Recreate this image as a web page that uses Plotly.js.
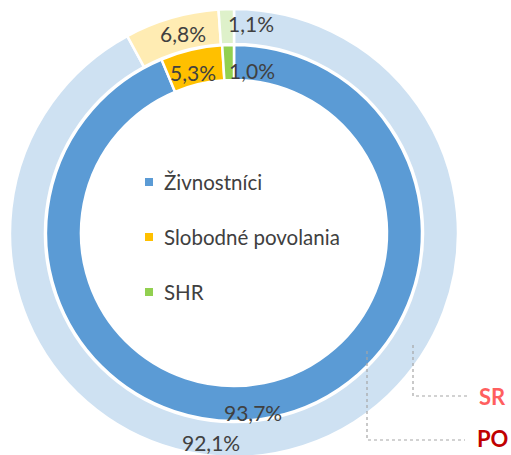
<!DOCTYPE html>
<html>
<head>
<meta charset="utf-8">
<script src="https://cdn.plot.ly/plotly-3.0.1.min.js"></script>
<style>
html,body{margin:0;padding:0;overflow:hidden;background:#fff;}
#chart{width:511px;height:460px;}
</style>
</head>
<body>
<div id="chart"></div>
<script>
// ---- data ----
const categories = ['Živnostníci', 'Slobodné povolania', 'SHR'];
const seriesNames = ['SR', 'PO'];
const valuesSR = [92.1, 6.8, 1.1];
const valuesPO = [93.7, 5.3, 1.0];

// ---- styles ----
const colorsPO = ['#5B9BD5', '#FFC000', '#92D050'];
const colorsSR = ['#CEE1F2', '#FFECB3', '#DEF1CA'];
const seriesColors = ['#FF5F5F', '#C00000'];
const W = 511, H = 460;
const cx = 234, cy = 233;
const outerR = 224, outerHole = 189;
const innerR = 188, innerHole = 153;
const font = 'Lato, "Open Sans", sans-serif';
const textColor = '#404040';
// label offsets (pixels) relative to slice mid-angle position
const offSR = [[-74, 9], [7, -1], [24, -3]];
const offPO = [[-15, 12], [-2, 6], [23, 8]];

const px = x => x / W;
const py = y => 1 - y / H;
const fmt = v => v.toFixed(1).replace('.', ',') + '%';

function pieTrace(vals, colors, R, hole, name) {
  return {
    type: 'pie', name: name, labels: categories, values: vals,
    sort: false, direction: 'clockwise', rotation: 0,
    hole: hole / R,
    marker: {colors: colors, line: {color: '#ffffff', width: 2.5}},
    textposition: 'none', showlegend: false, hoverinfo: 'label+percent',
    domain: {x: [px(cx - R), px(cx + R)], y: [1 - (cy + R) / H, 1 - (cy - R) / H]}
  };
}

const data = [
  pieTrace(valuesSR, colorsSR, outerR, outerHole, seriesNames[0]),
  pieTrace(valuesPO, colorsPO, innerR, innerHole, seriesNames[1])
];

const annotations = [];
function addLabels(vals, rMid, offs) {
  const total = vals.reduce((a, b) => a + b, 0);
  let cum = 0;
  vals.forEach((v, i) => {
    const mid = (cum + v / 2) / total * 2 * Math.PI;
    cum += v;
    const x = cx + Math.sin(mid) * rMid + offs[i][0];
    const y = cy - Math.cos(mid) * rMid + offs[i][1];
    annotations.push({
      x: px(x), y: py(y), xref: 'paper', yref: 'paper', showarrow: false,
      text: fmt(v), xanchor: 'center', yanchor: 'middle',
      font: {family: font, size: 21, color: textColor}
    });
  });
}
addLabels(valuesSR, (outerR + outerHole) / 2, offSR);
addLabels(valuesPO, (innerR + innerHole) / 2, offPO);

// legend (manual, from categories)
const shapes = [];
categories.forEach((c, i) => {
  const yc = 182 + i * 55;
  shapes.push({type: 'rect', xref: 'paper', yref: 'paper',
    x0: px(145), x1: px(153), y0: py(yc + 4), y1: py(yc - 4),
    fillcolor: colorsPO[i], line: {width: 0}});
  annotations.push({x: px(162), y: py(yc), xref: 'paper', yref: 'paper',
    showarrow: false, xanchor: 'left', yanchor: 'middle', text: c,
    font: {family: font, size: 20.5, color: textColor}});
});

// series labels with leader lines
const leader = [
  {pts: [[413, 345], [413, 396], [468, 396]], tx: 477, ty: 396},
  {pts: [[367, 351], [367, 440], [465, 440]], tx: 475, ty: 438}
];
leader.forEach((l, i) => {
  const d = 'M' + l.pts.map(p => px(p[0]) + ',' + py(p[1])).join(' L');
  shapes.push({type: 'path', xref: 'paper', yref: 'paper', path: d,
    line: {color: '#A6A6A6', width: 1.2, dash: 'dot'}});
  annotations.push({x: px(l.tx), y: py(l.ty), xref: 'paper', yref: 'paper',
    showarrow: false, xanchor: 'left', yanchor: 'middle', text: '<b>' + seriesNames[i] + '</b>',
    font: {family: font, size: 22, color: seriesColors[i]}});
});

const layout = {
  width: W, height: H,
  margin: {l: 0, r: 0, t: 0, b: 0},
  paper_bgcolor: '#ffffff', plot_bgcolor: '#ffffff',
  showlegend: false,
  annotations: annotations, shapes: shapes
};
Plotly.newPlot('chart', data, layout, {displayModeBar: false, staticPlot: true});
</script>
</body>
</html>
